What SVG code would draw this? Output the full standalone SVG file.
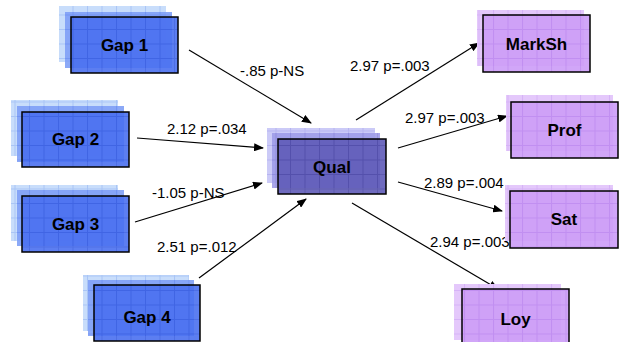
<svg xmlns="http://www.w3.org/2000/svg" width="620" height="342" viewBox="0 0 620 342">
<defs>
  <pattern id="pGb" patternUnits="userSpaceOnUse" width="14.5" height="14.5">
    <rect width="14.5" height="14.5" fill="#c8ddfb"/>
    <path d="M0 0.5H14.5M0.5 0V14.5" stroke="#a9c5f6" stroke-width="1"/>
  </pattern>
  <pattern id="pGm" patternUnits="userSpaceOnUse" width="14.5" height="14.5">
    <rect width="14.5" height="14.5" fill="#7f9ff6"/>
    <path d="M0 0.5H14.5M0.5 0V14.5" stroke="#6d8ff2" stroke-width="1"/>
  </pattern>
  <pattern id="pGf" patternUnits="userSpaceOnUse" width="14.5" height="14.5">
    <rect width="14.5" height="14.5" fill="#4a70f0"/>
    <path d="M0 0.5H14.5M0.5 0V14.5" stroke="#3a5fe2" stroke-width="1"/>
  </pattern>
  <pattern id="pQb" patternUnits="userSpaceOnUse" width="14.5" height="14.5">
    <rect width="14.5" height="14.5" fill="#cbcaf7"/>
    <path d="M0 0.5H14.5M0.5 0V14.5" stroke="#b6b4f0" stroke-width="1"/>
  </pattern>
  <pattern id="pQm" patternUnits="userSpaceOnUse" width="14.5" height="14.5">
    <rect width="14.5" height="14.5" fill="#9f9ce8"/>
    <path d="M0 0.5H14.5M0.5 0V14.5" stroke="#8c89dc" stroke-width="1"/>
  </pattern>
  <pattern id="pQf" patternUnits="userSpaceOnUse" width="14.5" height="14.5">
    <rect width="14.5" height="14.5" fill="#5f5bb8"/>
    <path d="M0 0.5H14.5M0.5 0V14.5" stroke="#4d49a6" stroke-width="1"/>
  </pattern>
  <pattern id="pPb" patternUnits="userSpaceOnUse" width="14.5" height="14.5">
    <rect width="14.5" height="14.5" fill="#e4c8fb"/>
    <path d="M0 0.5H14.5M0.5 0V14.5" stroke="#d6b3f7" stroke-width="1"/>
  </pattern>
  <pattern id="pPf" patternUnits="userSpaceOnUse" width="14.5" height="14.5">
    <rect width="14.5" height="14.5" fill="#cd9ef7"/>
    <path d="M0 0.5H14.5M0.5 0V14.5" stroke="#bf8cf0" stroke-width="1"/>
  </pattern>
  <marker id="ah" markerUnits="userSpaceOnUse" markerWidth="10" markerHeight="8" refX="9" refY="4" orient="auto">
    <path d="M0 0L10 4L0 8Z" fill="#000"/>
  </marker>
  <style>
    .gb{fill:url(#pGb)}
    .gm{fill:url(#pGm);opacity:0.9}
    .gf{fill:url(#pGf);fill-opacity:0.9;stroke:#000;stroke-width:1.5}
    .qb{fill:url(#pQb)}
    .qm{fill:url(#pQm);opacity:0.9}
    .qf{fill:url(#pQf);fill-opacity:0.9;stroke:#000;stroke-width:1.5}
    .pb{fill:url(#pPb)}
    .pf{fill:url(#pPf);fill-opacity:0.92;stroke:#000;stroke-width:1.5}
    .nl{font-family:"Liberation Sans",Arial,sans-serif;font-weight:bold;font-size:17px;text-anchor:middle;fill:#000}
    .el{font-family:"Liberation Sans",Arial,sans-serif;font-size:15px;fill:#000}
    .cn{stroke:#000;stroke-width:1.2;fill:none;marker-end:url(#ah)}
  </style>
</defs>
<rect width="620" height="342" fill="#fff"/>

<g id="connectors">
  <path class="cn" d="M189 50L311 123"/>
  <path class="cn" d="M137 138L263 148"/>
  <path class="cn" d="M135 222L262 183"/>
  <path class="cn" d="M199 278L306 199"/>
  <path class="cn" d="M356 120L479 43"/>
  <path class="cn" d="M398 148L507 116"/>
  <path class="cn" d="M398 182L502 211"/>
  <path class="cn" d="M352 203L498 289"/>
  <text class="el" x="240" y="76">-.85 p-NS</text>
  <text class="el" x="167" y="134">2.12 p=.034</text>
  <text class="el" x="152" y="198">-1.05 p-NS</text>
  <text class="el" x="157" y="252">2.51 p=.012</text>
  <text class="el" x="350" y="71">2.97 p=.003</text>
  <text class="el" x="405" y="123">2.97 p=.003</text>
  <text class="el" x="424" y="188">2.89 p=.004</text>
  <text class="el" x="430" y="247">2.94 p=.003</text>
</g>

<g id="gap1">
  <rect class="gb" x="59" y="6" width="107" height="56"/>
  <rect class="gm" x="65" y="12" width="107" height="56"/>
  <rect class="gf" x="71" y="17" width="107" height="56"/>
  <text class="nl" x="124.5" y="51">Gap 1</text>
</g>
<g id="gap2">
  <rect class="gb" x="11" y="100" width="107" height="56"/>
  <rect class="gm" x="17" y="106" width="107" height="56"/>
  <rect class="gf" x="22" y="112" width="107" height="55"/>
  <text class="nl" x="75.5" y="145">Gap 2</text>
</g>
<g id="gap3">
  <rect class="gb" x="11" y="185" width="107" height="56"/>
  <rect class="gm" x="17" y="190" width="107" height="56"/>
  <rect class="gf" x="22" y="196" width="107" height="56"/>
  <text class="nl" x="75.5" y="230">Gap 3</text>
</g>
<g id="gap4">
  <rect class="gb" x="83" y="275" width="106" height="56"/>
  <rect class="gm" x="88" y="280" width="106" height="56"/>
  <rect class="gf" x="94" y="285" width="106" height="56"/>
  <text class="nl" x="147" y="323">Gap 4</text>
</g>

<g id="qual">
  <rect class="qb" x="267" y="128" width="108" height="55"/>
  <rect class="qm" x="272" y="133" width="108" height="55"/>
  <rect class="qf" x="278" y="139" width="108" height="55"/>
  <text class="nl" x="332" y="173">Qual</text>
</g>

<g id="marksh">
  <rect class="pb" x="477" y="10" width="107" height="56"/>
  <rect class="pf" x="483" y="15" width="107" height="57"/>
  <text class="nl" x="536.5" y="50">MarkSh</text>
</g>
<g id="prof">
  <rect class="pb" x="506" y="95" width="107" height="56"/>
  <rect class="pf" x="511" y="102" width="107" height="56"/>
  <text class="nl" x="564.5" y="136">Prof</text>
</g>
<g id="sat">
  <rect class="pb" x="505" y="185" width="108" height="56"/>
  <rect class="pf" x="510" y="191" width="108" height="57"/>
  <text class="nl" x="564" y="225">Sat</text>
</g>
<g id="loy">
  <rect class="pb" x="454" y="284" width="107" height="56"/>
  <rect class="pf" x="462" y="289" width="107" height="56"/>
  <text class="nl" x="515.5" y="325">Loy</text>
</g>
</svg>
